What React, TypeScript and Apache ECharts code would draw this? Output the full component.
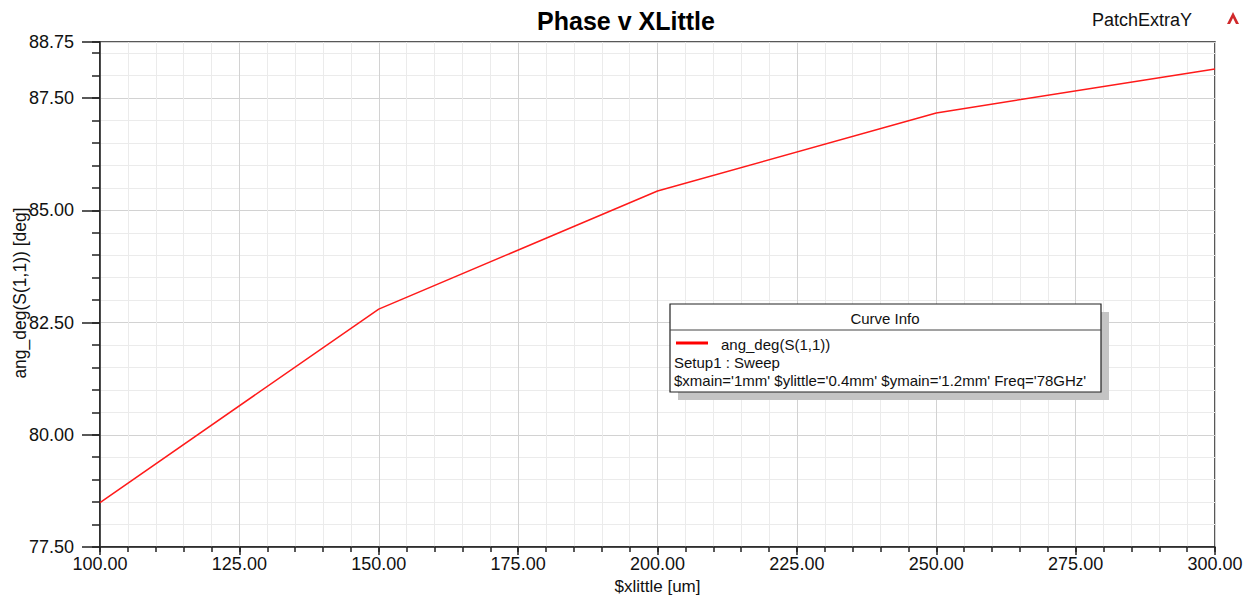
import React, { useEffect, useRef } from "react";
import * as echarts from "echarts";

const chartTitle = "Phase v XLittle";
const projectName = "PatchExtraY";
const xAxisName = "$xlittle [um]";
const yAxisName = "ang_deg(S(1,1)) [deg]";
const seriesName = "ang_deg(S(1,1))";
const legendLines = ["Setup1 : Sweep", "$xmain='1mm' $ylittle='0.4mm' $ymain='1.2mm' Freq='78GHz'"];

const xlittleValues = [100, 150, 200, 250, 300];
const phaseValues = [78.49, 82.8, 85.43, 87.17, 88.15];

const xMin = 100;
const xMax = 300;
const yMin = 77.5;
const yMax = 88.75;

const FONT = "'Liberation Sans', Arial, sans-serif";

export default function App() {
  const ref = useRef<HTMLDivElement>(null);
  useEffect(() => {
    if (!ref.current) return;
    const chart = echarts.init(ref.current, null, { renderer: "svg" });
    const minorGrid = "#ebebeb";
    const majorGrid = "#d2d2d2";
    const Z = 100;
    chart.setOption({
      animation: false,
      backgroundColor: "#ffffff",
      textStyle: { fontFamily: FONT },
      grid: {
        left: 100,
        top: 42,
        width: 1115,
        height: 505,
        show: true,
        borderColor: "#222",
        borderWidth: 1.5,
        backgroundColor: "transparent",
        containLabel: false,
        outerBoundsMode: "none",
      },
      xAxis: [
        {
          type: "value",
          position: "bottom",
          min: xMin,
          max: xMax,
          interval: 5,
          axisLine: { show: false },
          axisTick: { show: true, length: 5, lineStyle: { color: "#222", width: 1.5 } },
          axisLabel: { show: false },
          splitLine: { show: true, lineStyle: { color: minorGrid, width: 1 } },
        },
        {
          type: "value",
          position: "bottom",
          min: xMin,
          max: xMax,
          interval: 25,
          axisLine: { show: true, lineStyle: { color: "#222", width: 1.5 } },
          axisTick: { show: true, length: 8, lineStyle: { color: "#222", width: 1.5 } },
          axisLabel: {
            show: true,
            margin: 8,
            fontSize: 18,
            color: "#111",
            fontFamily: FONT,
            formatter: (v: number) => v.toFixed(2),
          },
          splitLine: { show: true, lineStyle: { color: majorGrid, width: 1 } },
          name: xAxisName,
          nameLocation: "middle",
          nameGap: 25,
          nameTextStyle: { fontSize: 17, color: "#111", fontFamily: FONT },
        },
      ],
      yAxis: [
        {
          type: "value",
          position: "left",
          min: yMin,
          max: yMax,
          interval: 0.5,
          axisLine: { show: false },
          axisTick: { show: true, length: 8, lineStyle: { color: "#222", width: 1.5 } },
          axisLabel: { show: false },
          splitLine: { show: true, lineStyle: { color: minorGrid, width: 1 } },
        },
        {
          type: "value",
          position: "left",
          min: yMin,
          max: yMax,
          interval: 2.5,
          axisLine: { show: true, lineStyle: { color: "#222", width: 1.5 } },
          axisTick: { show: true, length: 18, lineStyle: { color: "#222", width: 1.5 } },
          axisLabel: {
            show: true,
            margin: 26,
            fontSize: 18,
            color: "#111",
            fontFamily: FONT,
            formatter: (v: number) => v.toFixed(2),
          },
          splitLine: { show: true, lineStyle: { color: majorGrid, width: 1 } },
        },
      ],
      series: [
        {
          name: seriesName,
          type: "line",
          xAxisIndex: 1,
          yAxisIndex: 1,
          data: xlittleValues.map((x, i) => [x, phaseValues[i]]),
          showSymbol: false,
          symbol: "none",
          lineStyle: { color: "#ff1a1a", width: 1.5 },
          z: 5,
        },
      ],
      graphic: [
        {
          type: "text",
          x: 626,
          y: 21,
          style: { text: chartTitle, font: `bold 25px ${FONT}`, fill: "#000", textAlign: "center", textVerticalAlign: "middle" },
        },
        {
          type: "text",
          x: 1142,
          y: 20,
          style: { text: projectName, font: `18px ${FONT}`, fill: "#111", textAlign: "center", textVerticalAlign: "middle" },
        },
        {
          type: "polygon",
          shape: { points: [[1233, 12], [1227, 24], [1230, 24], [1233, 18], [1236, 24], [1239, 24]] },
          style: { fill: "#d0282a" },
        },
        {
          type: "text",
          x: 20,
          y: 293,
          rotation: Math.PI / 2,
          style: { text: yAxisName, font: `17.5px ${FONT}`, fill: "#111", textAlign: "center", textVerticalAlign: "middle" },
        },
        { type: "rect", z: Z, shape: { x: 678, y: 312, width: 431, height: 88 }, style: { fill: "#c4c4c4" } },
        { type: "rect", z: Z + 1, shape: { x: 670, y: 304, width: 431, height: 88 }, style: { fill: "#fff", stroke: "#222", lineWidth: 1.2 } },
        { type: "line", z: Z + 2, shape: { x1: 670, y1: 330, x2: 1101, y2: 330 }, style: { stroke: "#444", lineWidth: 1 } },
        {
          type: "text",
          z: Z + 2,
          x: 885,
          y: 318,
          style: { text: "Curve Info", font: `15px ${FONT}`, fill: "#111", textAlign: "center", textVerticalAlign: "middle" },
        },
        { type: "line", z: Z + 2, shape: { x1: 676, y1: 343, x2: 708, y2: 343 }, style: { stroke: "#ff0000", lineWidth: 3 } },
        {
          type: "text",
          z: Z + 2,
          x: 721,
          y: 344,
          style: { text: seriesName, font: `15px ${FONT}`, fill: "#111", textVerticalAlign: "middle" },
        },
        {
          type: "text",
          z: Z + 2,
          x: 674,
          y: 362,
          style: { text: legendLines[0], font: `15px ${FONT}`, fill: "#111", textVerticalAlign: "middle" },
        },
        {
          type: "text",
          z: Z + 2,
          x: 674,
          y: 380,
          style: { text: legendLines[1], font: `15px ${FONT}`, fill: "#111", textVerticalAlign: "middle" },
        },
      ],
    });
    return () => chart.dispose();
  }, []);
  return (
    <div
      ref={ref}
      style={{ position: "fixed", left: 0, top: 0, width: 1251, height: 595, background: "#fff" }}
    />
  );
}
